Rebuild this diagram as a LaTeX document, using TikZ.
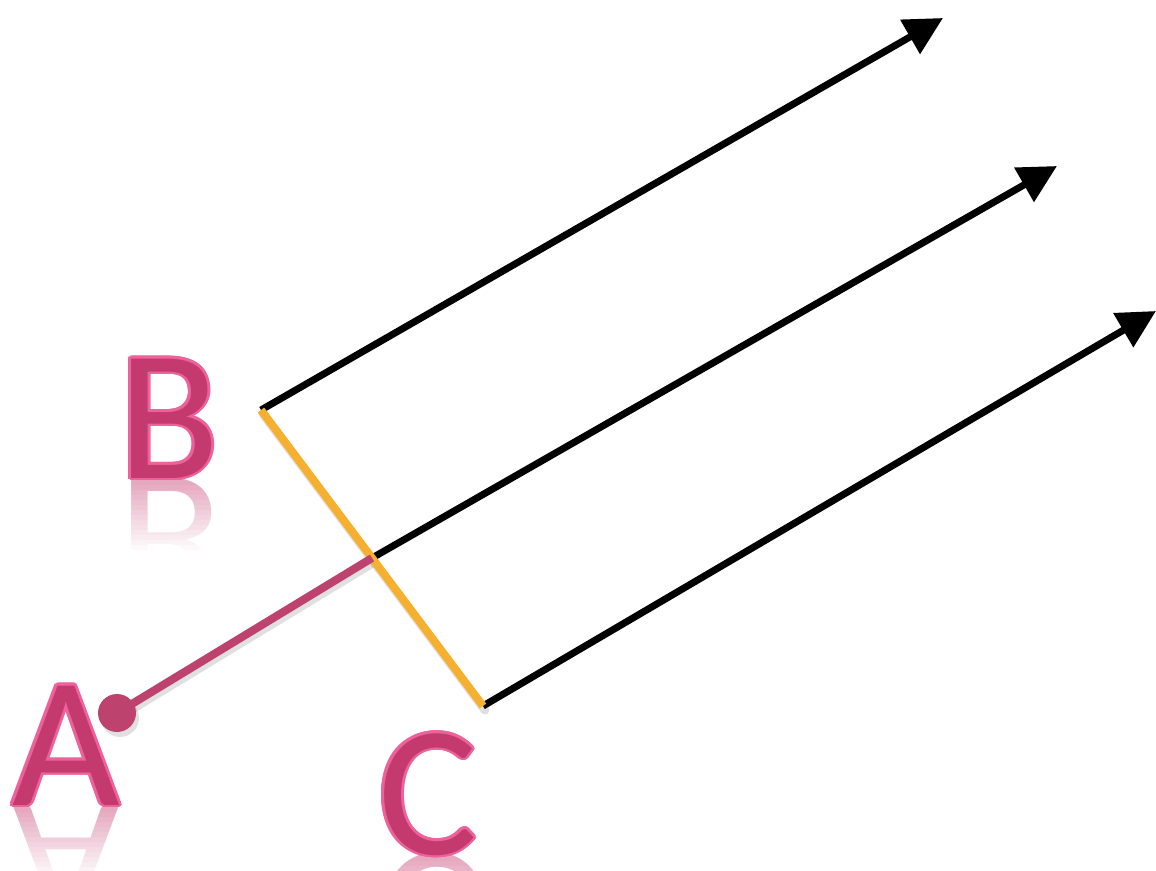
\documentclass[tikz,border=0pt]{standalone}
\usepackage{fontspec}
\setmainfont{Carlito}
\usetikzlibrary{arrows.meta}
\definecolor{lpink}{RGB}{238,98,156}
\definecolor{dpink}{RGB}{196,58,110}
\definecolor{lnpink}{RGB}{190,66,110}
\definecolor{orng}{RGB}{246,176,48}
\tikzset{
  lettr/.style={font=\fontsize{186}{186}\selectfont, inner sep=0pt, anchor=base west},
  ray/.style={line width=7pt, black, -{Triangle[length=38pt,width=38pt]}},
  shadowline/.style={line width=9pt, black, opacity=0.12, line cap=round},
  orange line/.style={line width=8pt, orng},
  pink line/.style={line width=8pt, lnpink},
}
\newcommand\drawletter[4]{%
  % reflection
  \node[lettr, text=dpink!55, yscale=-1, transform shape] (r#4) at (#1,#2) {#3};
  \foreach \i in {0,...,14}{\fill[white, opacity={0.2+0.8*\i/14}] (#1-10,#2+2+\i*5) rectangle (#1+130,#2+7+\i*5);}
  \fill[white] (#1-10,#2+77) rectangle (#1+130,#2+140);
  % outline
  \foreach \ang in {0,22.5,...,337.5}{\node[lettr,text=lpink] at ([shift={(\ang:2.8)}]#1,#2) {#3};}
  \node[lettr,text=dpink] (#4) at (#1,#2) {#3};
}
\begin{document}
\begin{tikzpicture}[x=1pt,y=-1pt]
\useasboundingbox (0,0) rectangle (1156,870);
\fill[white] (0,0) rectangle (1156,870);
% letters
\drawletter{118}{478}{B}{lB}
\drawletter{12}{805}{A}{lA}
\drawletter{378}{854}{C}{lC}
% points
\coordinate (B) at (261,410);
\coordinate (M) at (372,558);
\coordinate (C) at (483,706);
\coordinate (A) at (117,713);
\coordinate (T1) at (943,18);
\coordinate (T2) at (1057,166);
\coordinate (T3) at (1156,311);
% shadows
\draw[shadowline] ([shift={(2,4)}]B) -- ([shift={(2,4)}]C);
\draw[shadowline] ([shift={(2,4)}]A) -- ([shift={(2,4)}]M);
\fill[black, opacity=0.12] ([shift={(3,5)}]A) circle (19);
% lines
\draw[ray] (B) -- (T1);
\draw[ray] (M) -- (T2);
\draw[ray] (C) -- (T3);
\draw[orange line] (B) -- (C);
\draw[pink line] (A) -- (M);
\fill[lnpink] (A) circle (19);
\end{tikzpicture}
\end{document}
